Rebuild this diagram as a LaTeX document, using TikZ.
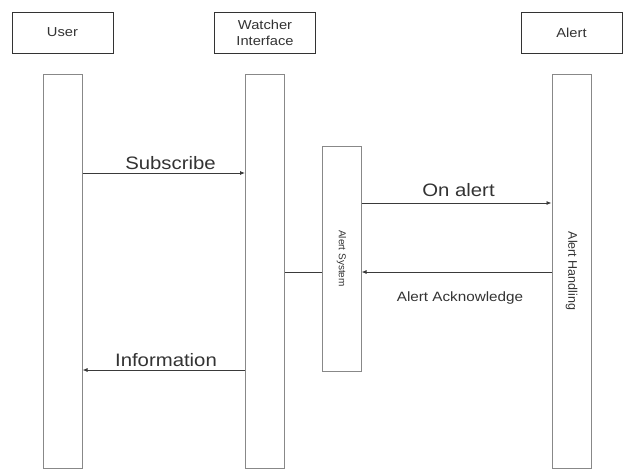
\documentclass[tikz,border=0pt]{standalone}
\usepackage{fontspec}
\setmainfont{Liberation Sans}[FakeStretch=1.13]
\newfontfamily\rotfont{Liberation Sans}
\usetikzlibrary{arrows.meta}

\definecolor{boxline}{HTML}{333333}
\definecolor{barline}{HTML}{888888}
\definecolor{msgline}{HTML}{3A3A3A}
\definecolor{txt}{HTML}{333333}

\tikzset{
    actor/.style={draw=boxline, line width=.9pt, minimum width=101pt, minimum height=41pt,
        inner sep=0pt, align=center, text=txt, font=\fontsize{13}{16}\selectfont},
    lifebar/.style={draw=barline, line width=1pt, minimum width=39pt, inner sep=0pt},
    msg/.style={draw=msgline, line width=.8pt, -{Latex[length=5pt,width=4pt]}},
    msglbl/.style={anchor=base, text=txt, font=\fontsize{18}{21}\selectfont},
}

\begin{document}
\begin{tikzpicture}[x=1pt, y=-1pt]
                \useasboundingbox (0,0) rectangle (627,469);

                % heads
                \node[actor] (user) at (62.5, 32.5) {User};
                \node[actor] (watcher) at (265, 32.5) {Watcher\\Interface};
                \node[actor] (alert) at (571.5, 32.5) {Alert};

                % lifelines
                \node[lifebar, minimum height=394pt] (userbar) at (62.5, 271) {};
                \node[lifebar, minimum height=394pt] (watcherbar) at (265, 271) {};
                \node[lifebar, minimum height=394pt] (alertbar) at (571.5, 271) {};
                \node[lifebar, minimum height=225pt] (alertsys) at (341.5, 258.5) {};

                \node[rotate=-90, text=txt, font=\rotfont\fontsize{10}{12}\selectfont] (syslbl) at (alertsys.center) {Alert System};
                \node[rotate=-90, text=txt, font=\rotfont\fontsize{12.5}{15}\selectfont] (handlbl) at (alertbar.center) {Alert Handling};

                % messages
                \draw[msg] (userbar.east |- 0,173) -- (watcherbar.west |- 0,173);
                \node[msglbl] (sublbl) at (170.5, 169) {Subscribe};

                \draw[msg] (alertsys.east |- 0,203) -- (alertbar.west |- 0,203);
                \node[msglbl] (onlbl) at (458.5, 196) {On alert};

                \draw[msg] (alertbar.west |- 0,272) -- (alertsys.east |- 0,272);
                \node[msglbl, font=\fontsize{13.5}{16}\selectfont] (acklbl) at (460, 301) {Alert Acknowledge};
                \draw[msgline, line width=.8pt] (watcherbar.east |- 0,272) -- (alertsys.west |- 0,272);

                \draw[msg] (watcherbar.west |- 0,370) -- (userbar.east |- 0,370);
                \node[msglbl] (infolbl) at (166, 366) {Information};
\end{tikzpicture}
\end{document}
